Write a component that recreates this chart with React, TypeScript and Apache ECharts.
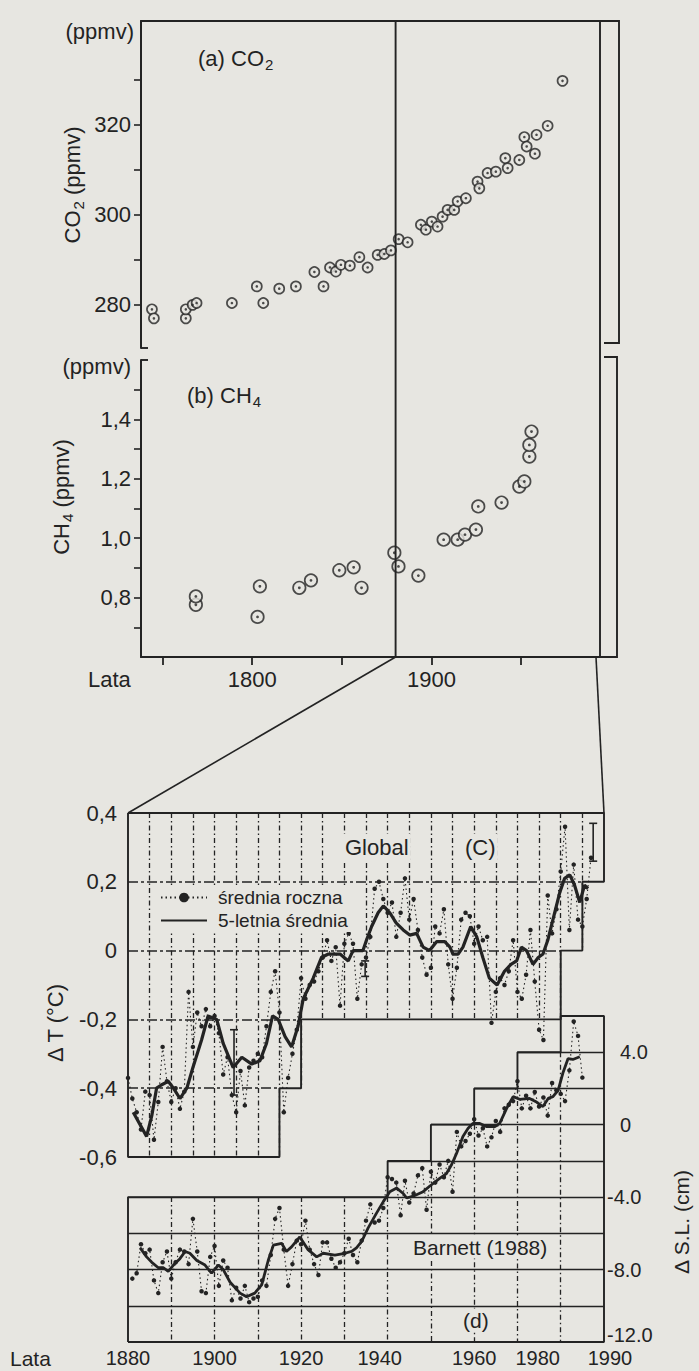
import React, { useEffect, useRef } from "react";
import * as echarts from "echarts";

const WIDTH = 699;
const HEIGHT = 1371;
const PAPER = "#e7e6e1";
const INK = "#232323";
const FONT = '"Liberation Sans", Arial, Helvetica, sans-serif';

// (a) CO2 in ice cores: year, ppmv
const co2Years = [1744.1, 1745.2, 1763.0, 1763.0, 1766.8, 1769.0, 1788.7, 1802.6, 1806.2, 1815.1, 1824.4, 1834.7, 1839.8, 1843.4, 1846.7, 1849.5, 1854.5, 1859.8, 1864.4, 1870.0, 1873.7, 1877.4, 1881.7, 1886.7, 1894.1, 1896.9, 1900.2, 1903.4, 1906.2, 1909.0, 1912.7, 1914.6, 1919.2, 1925.7, 1926.7, 1931.3, 1935.9, 1941.2, 1942.5, 1949.0, 1951.8, 1953.1, 1957.7, 1958.6, 1964.8, 1973.1];
const co2Values = [279.0, 277.0, 277.0, 279.0, 280.0, 280.4, 280.4, 284.1, 280.4, 283.6, 284.1, 287.3, 284.1, 288.3, 287.4, 288.9, 288.7, 290.6, 288.3, 291.1, 291.3, 292.1, 294.6, 293.9, 297.8, 296.7, 298.5, 297.4, 299.6, 301.1, 301.1, 303.0, 303.7, 307.4, 305.9, 309.3, 309.6, 312.6, 310.4, 312.2, 317.3, 315.2, 313.6, 317.8, 319.8, 329.8];

// (b) CH4 in ice cores: year, ppmv
const ch4Years = [1768.6, 1768.6, 1803.0, 1804.3, 1826.3, 1832.8, 1848.6, 1856.6, 1861.0, 1879.3, 1881.6, 1892.7, 1906.8, 1914.6, 1918.7, 1924.8, 1926.1, 1939.1, 1949.0, 1951.8, 1954.6, 1954.6, 1955.8];
const ch4Values = [0.776, 0.804, 0.735, 0.838, 0.833, 0.858, 0.892, 0.902, 0.833, 0.951, 0.905, 0.874, 0.995, 0.995, 1.012, 1.029, 1.107, 1.120, 1.174, 1.191, 1.275, 1.314, 1.359];

// (c) global temperature anomaly, annual means from 1880
const TEMP_FIRST_YEAR = 1880;
const tempAnnual = [
  -0.37, -0.43, -0.47, -0.52, -0.41, -0.42, -0.55, -0.44, -0.28, -0.38,
  -0.44, -0.40, -0.46, -0.41, -0.12, -0.28, -0.18, -0.22, -0.17, -0.22,
  -0.19, -0.24, -0.36, -0.31, -0.42, -0.47, -0.35, -0.45, -0.34, -0.32,
  -0.30, -0.31, -0.22, -0.12, -0.06, -0.18, -0.47, -0.37, -0.30, -0.23,
  -0.08, -0.14, -0.10, -0.09, -0.06, -0.02, 0.03, -0.03, 0.01, -0.16,
  0.02, 0.05, 0.02, -0.14, -0.04, -0.02, 0.04, 0.18, 0.20, 0.15,
  0.11, 0.14, 0.04, 0.11, 0.21, 0.09, 0.15, 0.06, -0.02, -0.07,
  -0.05, 0.07, 0.05, 0.12, -0.04, -0.14, -0.05, 0.09, 0.11, 0.10,
  0.02, 0.07, 0.03, 0.04, -0.21, -0.12, -0.08, -0.10, -0.06, 0.03,
  -0.12, -0.14, -0.07, 0.06, -0.09, -0.23, -0.26, 0.16, 0.05, 0.12,
  0.23, 0.36, 0.06, 0.25, 0.09, 0.07, 0.15, 0.27,
];

// (c) 5-year running mean
const temp5Years = [1881.2, 1884.3, 1885.5, 1886.6, 1887.8, 1889.3, 1890.5, 1892.0, 1893.6, 1895.0, 1897.0, 1898.5, 1900.5, 1902.0, 1904.3, 1906.3, 1908.6, 1910.5, 1912.0, 1913.4, 1914.7, 1916.3, 1917.8, 1919.3, 1920.5, 1922.8, 1924.7, 1926.3, 1929.0, 1930.9, 1932.0, 1934.3, 1935.1, 1936.3, 1937.8, 1939.0, 1940.5, 1942.0, 1943.6, 1945.1, 1946.7, 1948.2, 1949.7, 1951.3, 1953.2, 1954.4, 1955.1, 1956.3, 1957.4, 1959.2, 1960.6, 1962.0, 1963.5, 1965.3, 1967.0, 1968.5, 1969.8, 1970.9, 1972.1, 1973.6, 1974.8, 1975.9, 1977.0, 1978.2, 1979.8, 1980.9, 1982.1, 1983.2, 1984.4, 1985.5, 1986.3];
const temp5Values = [-0.47, -0.54, -0.48, -0.40, -0.39, -0.38, -0.40, -0.43, -0.40, -0.34, -0.26, -0.19, -0.20, -0.27, -0.34, -0.31, -0.33, -0.32, -0.27, -0.19, -0.20, -0.25, -0.28, -0.22, -0.14, -0.08, -0.02, -0.01, -0.01, -0.03, 0.00, 0.00, 0.03, 0.07, 0.11, 0.13, 0.11, 0.08, 0.06, 0.045, 0.05, 0.01, 0.00, 0.026, 0.026, 0.01, -0.01, -0.01, 0.01, 0.07, 0.04, -0.02, -0.08, -0.10, -0.06, -0.04, -0.03, 0.01, 0.00, -0.04, -0.02, -0.01, 0.03, 0.09, 0.17, 0.21, 0.22, 0.19, 0.14, 0.19, 0.18];

// (c) error bars: year, low, high
const errYears = [1904.5, 1934.8, 1987.5];
const errLow = [-0.42, -0.075, 0.26];
const errHigh = [-0.23, -0.03, 0.37];

// (d) sea level (Barnett 1988), annual values from 1881
const SL_FIRST_YEAR = 1881;
const slAnnual = [
  -8.5, -8.2, -6.6, -7.1, -6.9, -8.6, -9.3, -7.6, -7.0,
  -8.5, -7.6, -6.9, -7.0, -7.7, -5.2, -7.0, -9.2, -9.3, -7.3,
  -6.7, -8.9, -7.5, -7.9, -9.7, -9.0, -9.6, -8.9, -9.8, -9.6,
  -9.5, -8.6, -8.9, -7.2, -5.2, -4.6, -6.9, -8.9, -7.7, -6.4,
  -6.6, -5.3, -6.9, -7.7, -8.3, -6.5, -6.5, -7.4, -7.9, -7.6,
  -7.1, -6.3, -7.2, -7.6, -6.4, -5.3, -4.4, -5.4, -5.3, -4.6,
  -2.9, -3.0, -3.2, -5.0, -3.1, -4.3, -3.8, -2.8, -2.4, -4.7,
  -2.6, -3.2, -2.2, -2.9, -2.0, -3.7, -0.4, -1.2, -0.9, -0.5,
  0.3, -0.6, -0.2, -1.2, -0.7, 0.2, -0.4, 0.9, 1.1, 1.3,
  2.4, 0.9, 1.6, 0.9, 1.8, 1.0, 1.5, 0.5, 2.3, 1.9,
  1.7, 1.3, 3.0, 5.7, 4.9, 2.6,
];

// (d) smoothed sea level
const slSmoothYears = [1882.8, 1884.3, 1885.5, 1887.0, 1888.2, 1889.3, 1890.5, 1892.0, 1893.2, 1894.3, 1895.9, 1897.8, 1899.3, 1900.9, 1902.0, 1903.6, 1905.9, 1907.4, 1909.3, 1910.9, 1912.4, 1913.6, 1915.5, 1916.6, 1917.8, 1919.7, 1921.6, 1923.6, 1925.1, 1927.8, 1930.1, 1931.7, 1932.8, 1934.0, 1935.5, 1937.4, 1939.0, 1940.5, 1942.1, 1943.6, 1944.4, 1945.9, 1948.2, 1949.7, 1952.1, 1953.6, 1954.8, 1955.9, 1957.4, 1958.6, 1959.7, 1961.3, 1962.8, 1964.8, 1965.9, 1967.5, 1969.0, 1970.5, 1972.8, 1974.4, 1975.9, 1977.1, 1978.2, 1979.4, 1980.5, 1981.7, 1982.8, 1984.4];
const slSmoothValues = [-6.8, -7.3, -7.6, -7.9, -7.9, -8.1, -7.75, -7.4, -7.0, -7.1, -7.5, -7.75, -8.2, -7.75, -8.0, -8.7, -9.3, -9.5, -9.3, -8.85, -7.5, -6.65, -6.55, -7.0, -6.75, -6.2, -6.9, -7.3, -7.1, -7.2, -7.1, -7.0, -6.8, -6.45, -5.7, -4.9, -4.25, -3.7, -3.5, -3.8, -4.05, -3.95, -3.7, -3.4, -2.95, -2.7, -2.2, -1.6, -0.65, -0.2, 0.07, 0.07, -0.1, -0.1, 0.07, 0.9, 1.55, 1.4, 1.45, 1.25, 1.0, 1.45, 1.55, 1.9, 2.85, 3.65, 3.6, 3.75];

// Tick values
const co2Ticks = [280, 290, 300, 310, 320, 330];
const co2Labels = [280, 300, 320];
const ch4Ticks = [0.7, 0.8, 0.9, 1.0, 1.1, 1.2, 1.3, 1.4, 1.5];
const ch4Labels = [0.8, 1.0, 1.2, 1.4];
const longYearTicks = [1750, 1800, 1850, 1900, 1950];
const longYearLabels = [1800, 1900];
const tempLabels = [-0.6, -0.4, -0.2, 0, 0.2, 0.4];
const slLabels = [-12, -8, -4, 0, 4];
const shortYearLabels = [1880, 1900, 1920, 1940, 1960, 1980, 1990];

// Stepped frame edges in data units: [from year, value]
const tempFloorSteps = [[1880, -0.6], [1915, -0.4], [1920, -0.2], [1980, 0], [1985, 0.2]];
const slRoofSteps = [[1880, -4], [1940, -2], [1950, 0], [1960, 2], [1970, 4], [1980, 6]];
const SHORT_MIN = 1880;
const SHORT_MAX = 1990;
const TEMP_TOP = 0.4;
const SL_BOTTOM = -12;

const gridA = { left: 141, top: 21, width: 459, height: 327 };
const gridB = { left: 141, top: 360, width: 459, height: 297 };
const gridC = { left: 128, top: 813, width: 476, height: 344 };
const gridD = { left: 128, top: 1016, width: 476, height: 326 };

const GUIDE_DASH = [10, 3, 3, 3];
const VERT_DASH = [5, 3, 1.5, 3];

const comma = (v: number) => (v === 0 ? "0" : v.toFixed(1).replace(".", ","));

function stepLeftOf(steps: number[][], year: number) {
  let v = steps[0][1];
  for (const [y0, val] of steps) if (y0 < year) v = val;
  return v;
}
function stepStartFor(steps: number[][], value: number) {
  for (const [y0, val] of steps) if (val >= value - 1e-9) return y0;
  return SHORT_MAX;
}

function tempFramePath() {
  const pts: number[][] = [[SHORT_MIN, TEMP_TOP], [SHORT_MAX, TEMP_TOP]];
  for (let i = tempFloorSteps.length - 1; i >= 0; i--) {
    const end = i + 1 < tempFloorSteps.length ? tempFloorSteps[i + 1][0] : SHORT_MAX;
    pts.push([end, tempFloorSteps[i][1]], [tempFloorSteps[i][0], tempFloorSteps[i][1]]);
  }
  pts.push([SHORT_MIN, TEMP_TOP]);
  return pts;
}
function slFramePath() {
  const pts: number[][] = [[SHORT_MIN, SL_BOTTOM]];
  slRoofSteps.forEach(([y0, v], i) => {
    const end = i + 1 < slRoofSteps.length ? slRoofSteps[i + 1][0] : SHORT_MAX;
    pts.push([y0, v], [end, v]);
  });
  pts.push([SHORT_MAX, SL_BOTTOM], [SHORT_MIN, SL_BOTTOM]);
  return pts;
}

function tempGuides() {
  const out: any[] = [];
  [0.2, 0, -0.2, -0.4].forEach((v) => {
    out.push([
      { coord: [SHORT_MIN, v], lineStyle: { color: INK, width: 1.5, type: GUIDE_DASH } },
      { coord: [stepStartFor(tempFloorSteps, v), v] },
    ]);
  });
  for (let y = 1885; y <= 1985; y += 5) {
    out.push([
      { coord: [y, TEMP_TOP], lineStyle: { color: INK, width: 1.3, type: VERT_DASH } },
      { coord: [y, stepLeftOf(tempFloorSteps, y)] },
    ]);
  }
  return out;
}
function slGuides() {
  const out: any[] = [];
  [-10, -8, -6, -4, -2, 0, 2, 4].forEach((v) => {
    out.push([
      { coord: [stepStartFor(slRoofSteps, v), v], lineStyle: { color: INK, width: 1.4, type: "solid" } },
      { coord: [SHORT_MAX, v] },
    ]);
  });
  for (let y = 1890; y <= 1980; y += 10) {
    out.push([
      { coord: [y, stepLeftOf(slRoofSteps, y)], lineStyle: { color: INK, width: 1.3, type: VERT_DASH } },
      { coord: [y, SL_BOTTOM] },
    ]);
  }
  return out;
}

const labelBase = { color: INK, fontFamily: FONT, fontSize: 22 };
const axisLine = { show: true, onZero: false, lineStyle: { color: INK, width: 2 } };

function buildOption() {
  const co2Data = co2Years.map((y, i) => [y, co2Values[i]]);
  const ch4Data = ch4Years.map((y, i) => [y, ch4Values[i]]);
  const tempData = tempAnnual.map((v, i) => [TEMP_FIRST_YEAR + i, v]);
  const temp5Data = temp5Years.map((y, i) => [y, temp5Values[i]]);
  const errData = errYears.map((y, i) => [y, errLow[i], errHigh[i]]);
  const slData = slAnnual.map((v, i) => [SL_FIRST_YEAR + i, v]);
  const slSmoothData = slSmoothYears.map((y, i) => [y, slSmoothValues[i]]);

  const gridBase = { containLabel: false, outerBoundsMode: "none", show: false };
  const yearText = { ...labelBase, fontSize: 20 };
  const slText = { ...labelBase, fontSize: 20 };

  return {
    animation: false,
    backgroundColor: PAPER,
    textStyle: { fontFamily: FONT, color: INK },
    grid: [gridA, gridB, gridC, gridD].map((g) => ({ ...gridBase, ...g })),
    legend: {
      data: [
        { name: "średnia roczna" },
        { name: "5-letnia średnia", itemStyle: { opacity: 0 } },
      ],
      orient: "vertical",
      left: 156,
      top: 886,
      itemWidth: 46,
      itemHeight: 12,
      itemGap: 4,
      padding: [2, 6, 2, 4],
      backgroundColor: PAPER,
      selectedMode: false,
      textStyle: { color: INK, fontFamily: FONT, fontSize: 19, padding: [0, 0, 0, 6] },
      z: 6,
    },
    xAxis: [
      {
        gridIndex: 0, type: "value", min: 1738, max: 1994, position: "top",
        axisLine, axisTick: { show: false }, axisLabel: { show: false }, splitLine: { show: false },
      },
      {
        gridIndex: 1, type: "value", min: 1738, max: 1994, position: "bottom",
        axisLine,
        axisTick: { show: true, inside: false, length: 8, customValues: longYearTicks, lineStyle: { color: INK, width: 1.8 } },
        axisLabel: { ...labelBase, customValues: longYearLabels, margin: 11, formatter: (v: number) => String(v) },
        splitLine: { show: false },
      },
      { gridIndex: 2, type: "value", min: SHORT_MIN, max: SHORT_MAX, show: false },
      {
        gridIndex: 3, type: "value", min: SHORT_MIN, max: SHORT_MAX, position: "bottom",
        axisLine: { show: false }, axisTick: { show: false }, splitLine: { show: false },
        axisLabel: {
          ...yearText, margin: 6, customValues: shortYearLabels,
          formatter: (v: number) => (v === 1980 ? "{l|1980}" : v === 1990 ? "{r|1990}" : v === 1940 ? "{m|1940}" : `{d|${v}}`),
          rich: {
            d: { ...yearText },
            l: { ...yearText, padding: [0, 46, 0, 0] },
            r: { ...yearText, padding: [0, 0, 0, 12] },
            m: { ...yearText, padding: [0, 16, 0, 0] },
          },
        },
      },
    ],
    yAxis: [
      {
        gridIndex: 0, type: "value", min: 270.4, max: 343.1,
        axisLine,
        axisTick: { show: true, inside: false, length: 7, customValues: co2Ticks, lineStyle: { color: INK, width: 1.6 } },
        axisLabel: { ...labelBase, customValues: co2Labels, margin: 10, formatter: (v: number) => String(v) },
        splitLine: { show: false },
      },
      {
        gridIndex: 1, type: "value", min: 0.6, max: 1.6,
        axisLine,
        axisTick: { show: true, inside: false, length: 7, customValues: ch4Ticks, lineStyle: { color: INK, width: 1.6 } },
        axisLabel: { ...labelBase, customValues: ch4Labels, margin: 10, formatter: comma },
        splitLine: { show: false },
      },
      {
        gridIndex: 2, type: "value", min: -0.6, max: TEMP_TOP,
        axisLine: { show: false }, axisTick: { show: false }, splitLine: { show: false },
        axisLabel: { ...labelBase, customValues: tempLabels, margin: 11, formatter: comma },
      },
      {
        gridIndex: 3, type: "value", min: SL_BOTTOM, max: 6, position: "right",
        axisLine: { show: false }, axisTick: { show: false }, splitLine: { show: false },
        axisLabel: {
          ...slText, customValues: slLabels, margin: 3,
          formatter: (v: number) =>
            v === SL_BOTTOM ? `{b|${v.toFixed(1)}}` : v < 0 ? `{n|${v.toFixed(1)}}` : `{p|${v === 0 ? "0" : v.toFixed(1)}}`,
          rich: {
            n: { ...slText },
            b: { ...slText, padding: [0, 0, 14, 0] },
            p: { ...slText, padding: [0, 0, 0, 13] },
          },
        },
      },
    ],
    series: [
      {
        type: "scatter", xAxisIndex: 0, yAxisIndex: 0, data: co2Data, symbol: "circle", symbolSize: 10,
        itemStyle: { color: PAPER, borderColor: INK, borderWidth: 1.7 }, z: 3, silent: true, clip: false,
      },
      {
        type: "scatter", xAxisIndex: 0, yAxisIndex: 0, data: co2Data, symbol: "circle", symbolSize: 2.6,
        itemStyle: { color: INK }, z: 4, silent: true, clip: false,
      },
      {
        type: "scatter", xAxisIndex: 1, yAxisIndex: 1, data: ch4Data, symbol: "circle", symbolSize: 12.5,
        itemStyle: { color: PAPER, borderColor: INK, borderWidth: 1.7 }, z: 3, silent: true, clip: false,
      },
      {
        type: "scatter", xAxisIndex: 1, yAxisIndex: 1, data: ch4Data, symbol: "circle", symbolSize: 2.8,
        itemStyle: { color: INK }, z: 4, silent: true, clip: false,
      },
      {
        type: "line", xAxisIndex: 2, yAxisIndex: 2, data: tempFramePath(), symbol: "none", silent: true, clip: false,
        lineStyle: { color: INK, width: 1.9 }, z: 2,
        markLine: { silent: true, symbol: ["none", "none"], label: { show: false }, data: tempGuides() },
      },
      {
        type: "line", xAxisIndex: 3, yAxisIndex: 3, data: slFramePath(), symbol: "none", silent: true, clip: false,
        lineStyle: { color: INK, width: 1.9 }, z: 2,
        markLine: { silent: true, symbol: ["none", "none"], label: { show: false }, data: slGuides() },
      },
      {
        name: "średnia roczna", type: "line", xAxisIndex: 2, yAxisIndex: 2, data: tempData,
        symbol: "circle", symbolSize: 4.5, showSymbol: true, silent: true, clip: false,
        itemStyle: { color: INK }, lineStyle: { color: INK, width: 1.1, type: [1.5, 3] }, z: 3,
      },
      {
        name: "5-letnia średnia", type: "line", xAxisIndex: 2, yAxisIndex: 2, data: temp5Data,
        symbol: "none", silent: true, clip: false,
        itemStyle: { color: INK }, lineStyle: { color: INK, width: 3.2 }, z: 4,
      },
      {
        type: "custom", xAxisIndex: 2, yAxisIndex: 2, data: errData, silent: true, clip: false, z: 4,
        encode: { x: 0, y: [1, 2] },
        renderItem: (_p: any, api: any) => {
          const x = api.value(0);
          const a = api.coord([x, api.value(1)]);
          const b = api.coord([x, api.value(2)]);
          const st = { stroke: INK, lineWidth: 1.6 };
          return {
            type: "group",
            children: [
              { type: "line", shape: { x1: a[0], y1: a[1], x2: b[0], y2: b[1] }, style: st },
              { type: "line", shape: { x1: a[0] - 4, y1: a[1], x2: a[0] + 4, y2: a[1] }, style: st },
              { type: "line", shape: { x1: b[0] - 4, y1: b[1], x2: b[0] + 4, y2: b[1] }, style: st },
            ],
          };
        },
      },
      {
        name: "SL roczny", type: "line", xAxisIndex: 3, yAxisIndex: 3, data: slData,
        symbol: "circle", symbolSize: 4.5, showSymbol: true, silent: true, clip: false,
        itemStyle: { color: INK }, lineStyle: { color: INK, width: 1.1, type: [1.5, 3] }, z: 3,
      },
      {
        name: "SL wygładzony", type: "line", xAxisIndex: 3, yAxisIndex: 3, data: slSmoothData,
        symbol: "none", silent: true, clip: false,
        itemStyle: { color: INK }, lineStyle: { color: INK, width: 2.8 }, z: 4,
      },
    ],
  };
}

function buildGraphic(chart: echarts.ECharts) {
  const Z = 20;
  const seg = (x1: number, y1: number, x2: number, y2: number, w = 1.9) => ({
    type: "line", silent: true, z: Z, shape: { x1, y1, x2, y2 }, style: { stroke: INK, lineWidth: w },
  });
  const poly = (points: number[][], w = 1.9) => ({
    type: "polyline", silent: true, z: Z, shape: { points }, style: { stroke: INK, lineWidth: w, fill: null },
  });
  const txt = (x: number, y: number, text: string, extra: any = {}, rot = 0) => ({
    type: "text", silent: true, z: Z + 1, x, y, rotation: rot,
    style: {
      text, fill: INK, fontFamily: FONT, fontSize: 22,
      align: "left", verticalAlign: "middle", ...extra,
    },
  });
  const sub = (main: number, small: number) => ({
    m: { fontFamily: FONT, fontSize: main, fill: INK },
    s: { fontFamily: FONT, fontSize: small, fill: INK, padding: [12, 0, 0, 1] },
  });

  const aTop = gridA.top;
  const abRight = gridA.left + gridA.width;
  const bBottom = gridB.top + gridB.height;
  const x1880 = chart.convertToPixel({ xAxisIndex: 0 }, 1880) as number;
  const b1880 = chart.convertToPixel({ xAxisIndex: 1, yAxisIndex: 1 }, [1880, 0.6]) as number[];
  const cLeftTop = chart.convertToPixel({ gridIndex: 2 }, [SHORT_MIN, TEMP_TOP]) as number[];
  const cRightTop = chart.convertToPixel({ gridIndex: 2 }, [SHORT_MAX, TEMP_TOP]) as number[];
  const aBottom = gridA.top + gridA.height;

  return [
    // 1880 marker through (a) and (b), right edge and brackets
    seg(x1880, aTop, x1880, bBottom),
    seg(abRight, aTop, abRight, bBottom),
    poly([[abRight, aTop], [619, aTop], [619, aBottom - 5], [604, aBottom - 5]]),
    poly([[604, gridB.top - 3], [617, gridB.top - 3], [617, bBottom], [abRight, bBottom]]),
    seg(gridA.left, aBottom, gridA.left + 7, aBottom),
    seg(gridB.left, gridB.top, gridB.left + 7, gridB.top),
    // enlargement lines from (b) to (c)
    seg(b1880[0], bBottom, cLeftTop[0], cLeftTop[1], 1.6),
    seg(abRight - 4, bBottom, cRightTop[0], cRightTop[1], 1.6),

    txt(134, 31, "(ppmv)", { align: "right" }),
    txt(198, 58, "{m|(a) CO}{s|2}", { rich: sub(22, 15) }),
    txt(72, 185, "{m|CO}{s|2}{m| (ppmv)}", { align: "center", rich: sub(22, 15) }, Math.PI / 2),
    txt(131, 366, "(ppmv)", { align: "right" }),
    txt(187, 395, "{m|(b) CH}{s|4}", { rich: sub(22, 15) }),
    txt(61, 497, "{m|CH}{s|4}{m| (ppmv)}", { align: "center", rich: sub(22, 15) }, Math.PI / 2),
    txt(88, 679, "Lata"),

    txt(343, 847, "Global", { backgroundColor: PAPER, padding: [2, 2] }),
    txt(463, 847, "(C)", { backgroundColor: PAPER, padding: [2, 2] }),
    txt(55, 1023, "Δ T (°C)", { align: "center" }, Math.PI / 2),

    txt(411, 1247, "Barnett (1988)", { fontSize: 21, backgroundColor: PAPER, padding: [1, 2] }),
    txt(461, 1320, "(d)", { fontSize: 21, backgroundColor: PAPER, padding: [1, 2] }),
    txt(681, 1222, "Δ S.L. (cm)", { align: "center", fontSize: 21 }, Math.PI / 2),
    txt(10, 1358, "Lata", { fontSize: 21 }),
  ];
}

export default function App() {
  const ref = useRef<HTMLDivElement>(null);
  useEffect(() => {
    document.body.style.margin = "0";
    document.body.style.background = PAPER;
    const chart = echarts.init(ref.current!, null, { renderer: "svg", width: WIDTH, height: HEIGHT });
    chart.setOption(buildOption() as any);
    chart.setOption({ graphic: buildGraphic(chart) } as any);
    return () => chart.dispose();
  }, []);
  return <div ref={ref} style={{ width: WIDTH, height: HEIGHT }} />;
}
